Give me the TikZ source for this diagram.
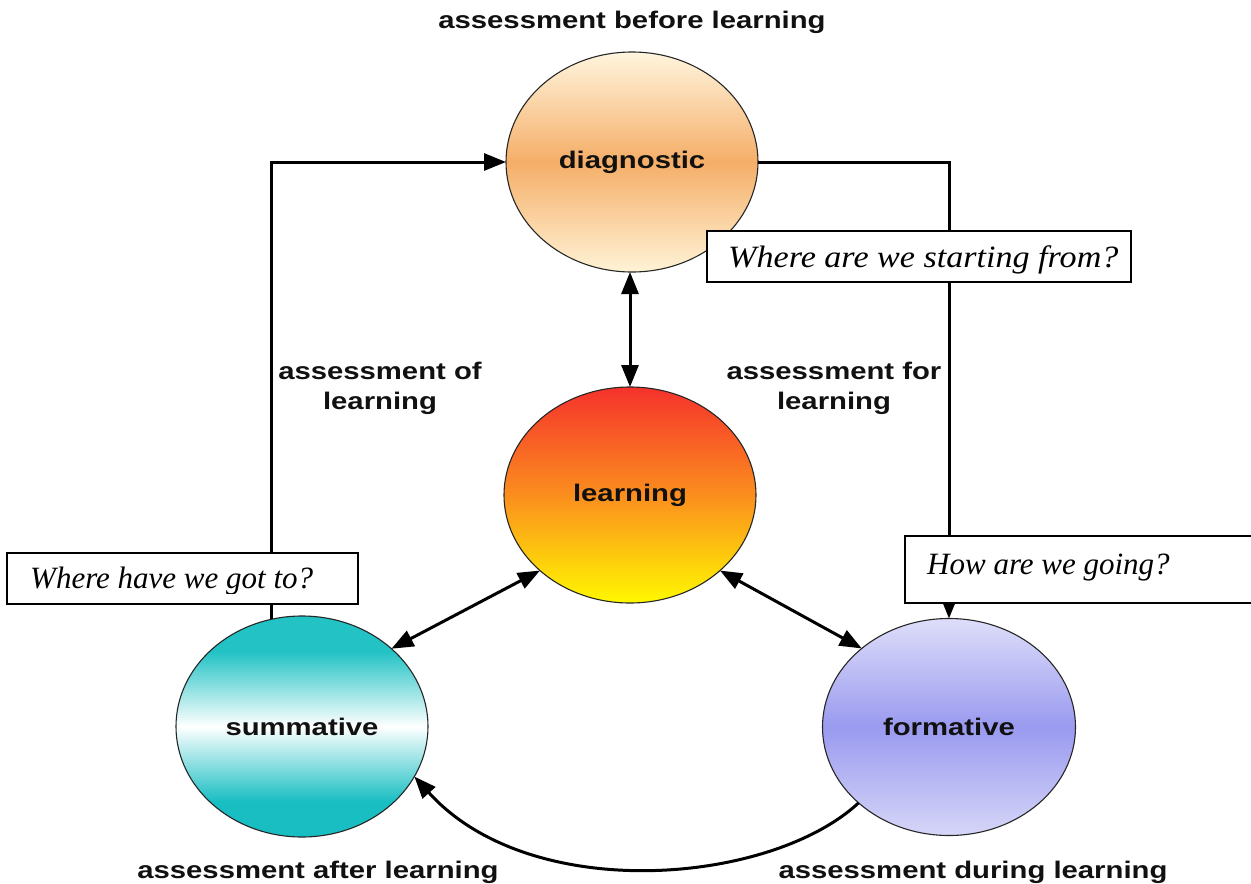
\documentclass[tikz,border=0pt]{standalone}
\usepackage{fontspec}
\setmainfont{Liberation Sans}
\newfontfamily\lblfont[FakeStretch=1.22]{Liberation Sans}
\newfontfamily\qfont{Liberation Serif}
\newfontfamily\qfontwide[FakeStretch=1.1]{Liberation Serif}
\usetikzlibrary{shapes.geometric,arrows.meta}
\definecolor{diagTop}{HTML}{FFF5DE}
\definecolor{diagMid}{HTML}{F5AE68}
\definecolor{diagBot}{HTML}{FFF3D6}
\definecolor{learnTop}{HTML}{F5322C}
\definecolor{learnMid}{HTML}{FB8E1E}
\definecolor{learnBot}{HTML}{FFF800}
\definecolor{sumTop}{HTML}{22C2C5}
\definecolor{sumBot}{HTML}{18BEC2}
\definecolor{formTop}{HTML}{DEDEFA}
\definecolor{formMid}{HTML}{9A9AF0}
\definecolor{formBot}{HTML}{D6D6F8}
\definecolor{ink}{HTML}{111111}
\pgfdeclareverticalshading{sumshade}{100bp}{color(0bp)=(sumBot); color(25bp)=(sumBot); color(33bp)=(sumBot); color(50bp)=(white); color(67bp)=(sumTop); color(75bp)=(sumTop); color(100bp)=(sumTop)}
\begin{document}
\begin{tikzpicture}[x=1pt,y=-1pt,
  circ/.style={ellipse, draw=black!85, line width=1.1pt, minimum width=252pt,
    minimum height=220pt, inner sep=0pt, outer sep=0pt, text=ink,
    font=\lblfont\bfseries\fontsize{24}{28}\selectfont},
  lbl/.style={font=\lblfont\bfseries\fontsize{24}{30}\selectfont, align=center,
    inner sep=0pt, text=ink},
  qbox/.style={draw=black, line width=1.6pt, fill=white, inner sep=0pt, outer sep=0pt},
  qtext/.style={font=\qfont\itshape\fontsize{31}{36}\selectfont, anchor=base west, inner sep=0pt},
  link/.style={line width=3pt, draw=black},
  arrowend/.style={-{Triangle[length=22pt,width=17pt]}},
  arrowboth/.style={{Triangle[length=22pt,width=17pt]}-{Triangle[length=22pt,width=17pt]}}
]
\useasboundingbox (0,0) rectangle (1251,884);
\fill[white] (0,0) rectangle (1251,884);

% circles
\node[circ, top color=diagTop, bottom color=diagBot, middle color=diagMid] (diag) at (632,162) {diagnostic};
\node[circ, minimum height=216pt, top color=learnTop, bottom color=learnBot, middle color=learnMid] (learn) at (630,495) {learning};
\node[circ, minimum height=221pt, shading=sumshade] (sum) at (302,726.5) {summative};
\node[circ, minimum width=253pt, minimum height=217pt, top color=formTop, bottom color=formBot, middle color=formMid] (form) at (949,727) {formative};

% labels
\node[lbl, anchor=base] (lbefore) at (632,28) {assessment before learning};
\node[lbl] (lof) at (380,388) {assessment of\\learning};
\node[lbl] (lfor) at (834,388) {assessment for\\learning};
\node[lbl, anchor=base] (lafter) at (318,878) {assessment after learning};
\node[lbl, anchor=base] (lduring) at (973,878) {assessment during learning};

% connectors
\draw[link, arrowend] (sum.106) |- (diag.west);
\draw[link, arrowend] (diag.east) -| (form.north);
\draw[link, arrowboth] (learn.north |- diag.south) -- (learn.north);
\draw[link, arrowboth] (learn.220) -- (sum.41);
\draw[link, arrowboth] (learn.320) -- (form.138);
\draw[link, arrowend] (form.220) .. controls (770,885) and (530,905) .. (sum.336);

% question boxes
\node[qbox, minimum width=424pt, minimum height=51pt] (b1) at (919,256.5) {};
\node[qbox, minimum width=351pt, minimum height=51pt] (b2) at (182.5,578.5) {};
\node[qbox, minimum width=360pt, minimum height=67pt, anchor=north west] (b3) at (905,536) {};
\begin{scope}
\clip (b1.north west) rectangle ([yshift=9pt]b1.south east);
\node[qtext, font=\qfontwide\itshape\fontsize{31}{36}\selectfont] (t1) at (728,267) {Where are we starting from?};
\end{scope}
\begin{scope}
\clip (b2.north west) rectangle ([yshift=11pt]b2.south east);
\node[qtext] (t2) at (30,588) {Where have we got to?};
\end{scope}
\node[qtext] (t3) at (927,574) {How are we going?};
\end{tikzpicture}
\end{document}
